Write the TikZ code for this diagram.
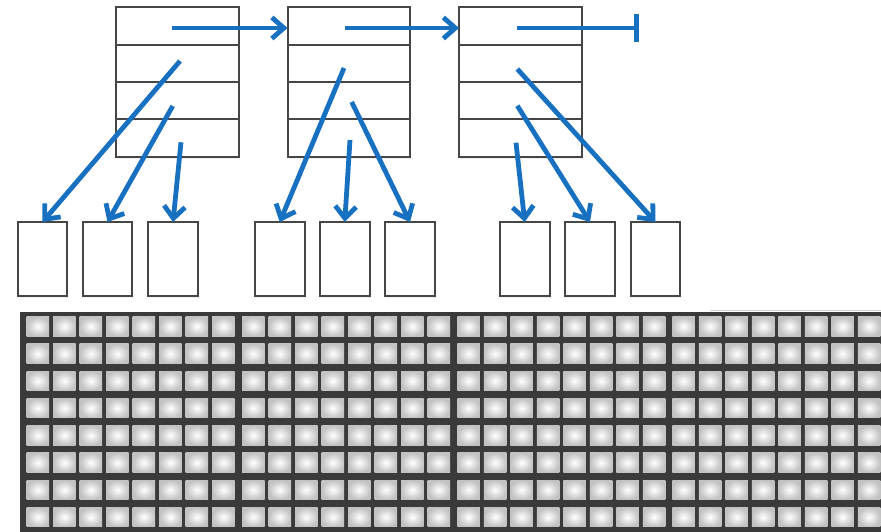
\documentclass[tikz,border=0pt]{standalone}
\usetikzlibrary{arrows.meta,shadows}
\definecolor{arrowblue}{RGB}{24,112,192}
\definecolor{boxgray}{RGB}{70,70,70}
\definecolor{griddark}{RGB}{58,58,58}
\begin{document}
\begin{tikzpicture}[x=1pt,y=-1pt,
  rowbox/.style={draw=boxgray, line width=2pt, fill=white, minimum width=122.5pt,
    minimum height=37.35pt, inner sep=0pt, outer sep=0pt,
    drop shadow={opacity=0.12, shadow xshift=1pt, shadow yshift=-2pt}},
  leafbox/.style={draw=boxgray, line width=2pt, fill=white, minimum width=49.5pt,
    minimum height=74pt, inner sep=0pt, outer sep=0pt,
    drop shadow={opacity=0.12, shadow xshift=1pt, shadow yshift=-2pt}},
  link/.style={draw=arrowblue, line width=4.8pt, -{Straight Barb[length=12pt,width=21pt]}},
  endlink/.style={draw=arrowblue, line width=4.8pt, -{Bar[width=28pt]}},
  cell/.style={inner color=white, outer color=gray!48, draw=none}
]
\useasboundingbox (0,0) rectangle (881,532);
\fill[white] (0,0) rectangle (881,532);

% ---- memory grid ----
\begin{scope}
\clip (0,0) rectangle (881,532);
\draw[gray!35, line width=1pt] (710,310) -- (881,310);
\fill[griddark] (20,312) rectangle (881,532);
\foreach \bx in {26.7,242,457.3,672.3}{
  \foreach \k in {0,...,7}{
    \foreach \j in {0,...,7}{
      \shade[cell] ({\bx+26.5*\k},{316.7+27.23*\j}) rectangle ++(22.5,19.5);
    }
  }
}
\end{scope}

% ---- top index blocks ----
\foreach \b/\cx in {1/177.25,2/348.75,3/520.25}{
  \foreach \i in {1,...,4}{
    \node[rowbox] (b\b r\i) at (\cx,{7.3+37.35*(\i-0.5)}) {};
  }
}

% ---- leaf blocks ----
\foreach \s/\cx in {1/42.5,2/107.5,3/173,4/279.75,5/344.75,6/410,7/524.75,8/590,9/655.5}{
  \node[leafbox] (s\s) at (\cx,259) {};
}

% ---- start points ----
\coordinate (h1) at (172.3,28);
\coordinate (h2) at (345,28);
\coordinate (h3) at (517,28);
\coordinate (hend) at (639,28);
\coordinate (a1) at (180,61);
\coordinate (a2) at (172.7,106);
\coordinate (a3) at (181,142.3);
\coordinate (a4) at (344,68);
\coordinate (a5) at (350,140);
\coordinate (a6) at (351.7,102);
\coordinate (a7) at (516,142.7);
\coordinate (a8) at (517.3,105.7);
\coordinate (a9) at (517.3,69);

% ---- connectors ----
\draw[link] (h1) -- (b2r1.west |- h1);
\draw[link] (h2) -- (b3r1.west |- h2);
\draw[endlink] (h3) -- (hend);
\foreach \n in {1,...,9}{
  \draw[link] (a\n) -- (s\n.north);
}
\end{tikzpicture}
\end{document}
